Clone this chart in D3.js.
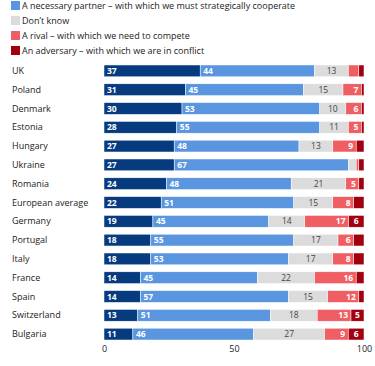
<!DOCTYPE html>
<html>
<head>
<meta charset="utf-8">
<script src="https://cdn.jsdelivr.net/npm/d3@7"></script>
<style>
  body { margin: 0; background: #fff; }
  svg { font-family: "Open Sans", sans-serif; }
</style>
</head>
<body>
<div class="chart"></div>
<script>
"use strict";

var countries = ["UK", "Poland", "Denmark", "Estonia", "Hungary", "Ukraine", "Romania",
  "European average", "Germany", "Portugal", "Italy", "France", "Spain", "Switzerland", "Bulgaria"];

var ally      = [37, 31, 30, 28, 27, 27, 24, 22, 19, 18, 18, 14, 14, 13, 11];
var partner   = [44, 45, 53, 55, 48, 67, 48, 51, 45, 55, 53, 45, 57, 51, 46];
var dontKnow  = [13, 15, 10, 11, 13, 3, 21, 15, 14, 17, 17, 22, 15, 18, 27];
var rival     = [4, 7, 6, 5, 9, 1, 5, 8, 17, 6, 8, 16, 12, 13, 9];
var adversary = [2, 1, 1, 1, 3, 2, 2, 4, 6, 4, 4, 3, 2, 5, 6];

var keys = ["ally", "partner", "dontKnow", "rival", "adversary"];
var legendLabels = [
  "A necessary partner \u2013 with which we must strategically cooperate",
  "Don\u2019t know",
  "A rival \u2013 with which we need to compete",
  "An adversary \u2013 with which we are in conflict"
];
var tickValues = [0, 50, 100];

var colors = {
  ally: "#073b80",
  partner: "#5a95e0",
  dontKnow: "#dcdcdc",
  rival: "#ef5e62",
  adversary: "#a3000f"
};

var width = 375, height = 366;

var rows = countries.map(function(c, i) {
  return { country: c, ally: ally[i], partner: partner[i], dontKnow: dontKnow[i],
           rival: rival[i], adversary: adversary[i] };
});

var svg = d3.select(".chart").append("svg")
  .attr("width", width)
  .attr("height", height);

// legend (first item of the original is cropped off the top)
var legend = svg.append("g").selectAll("g")
  .data(legendLabels)
  .enter().append("g")
    .attr("transform", function(d, i) { return "translate(11," + (1 + i * 15) + ")"; });

legend.append("rect")
  .attr("width", 9)
  .attr("height", 9)
  .attr("fill", function(d, i) { return colors[keys[i + 1]]; });

legend.append("text")
  .attr("x", 11)
  .attr("y", 4.5)
  .attr("dy", "0.35em")
  .style("font-size", "9px")
  .style("fill", "#222")
  .text(function(d) { return d; });

var x = d3.scaleLinear().domain([0, 1]).range([104, 364]);
var y = d3.scaleBand().domain(countries).range([58, 347]).padding(0.372);

var series = d3.stack().keys(keys).offset(d3.stackOffsetExpand)(rows);

// country labels
svg.append("g").selectAll("text")
  .data(countries)
  .enter().append("text")
    .attr("x", 12)
    .attr("y", function(d) { return y(d) + y.bandwidth() / 2; })
    .attr("dy", "0.35em")
    .style("font-size", "9px")
    .style("fill", "#222")
    .text(function(d) { return d; });

var layers = svg.append("g").selectAll("g")
  .data(series)
  .enter().append("g")
    .attr("fill", function(d) { return colors[d.key]; });

layers.selectAll("rect")
  .data(function(d) { return d; })
  .enter().append("rect")
    .attr("x", function(d) { return x(d[0]); })
    .attr("y", function(d) { return y(d.data.country); })
    .attr("width", function(d) { return Math.max(0, x(d[1]) - x(d[0])); })
    .attr("height", y.bandwidth())
    .attr("stroke", "#fff")
    .attr("stroke-width", 0.5);

// value labels
layers.each(function(s) {
  var key = s.key;
  d3.select(this).selectAll("text")
    .data(s.filter(function(d) { return d.data[key] >= 5; }))
    .enter().append("text")
      .attr("x", function(d) {
        if (key === "ally" || key === "partner") return x(d[0]) + 3;
        if (key === "dontKnow" || key === "adversary") return (x(d[0]) + x(d[1])) / 2;
        return x(d[1]) - 3;
      })
      .attr("y", function(d) { return y(d.data.country) + y.bandwidth() / 2; })
      .attr("dy", "0.36em")
      .attr("text-anchor", function() {
        if (key === "ally" || key === "partner") return "start";
        if (key === "dontKnow" || key === "adversary") return "middle";
        return "end";
      })
      .style("font-size", "8.5px")
      .style("font-weight", key === "dontKnow" ? "normal" : "bold")
      .style("fill", key === "dontKnow" ? "#444" : "#fff")
      .text(function(d) { return d.data[key]; });
});

// x axis
var axis = svg.append("g")
  .attr("transform", "translate(0,343)")
  .call(d3.axisBottom(x)
    .tickValues(tickValues.map(function(v) { return v / 100; }))
    .tickFormat(function(d) { return Math.round(d * 100); })
    .tickSize(0));

axis.select(".domain").remove();
axis.selectAll("text")
  .style("font-size", "9px")
  .style("fill", "#222")
  .style("font-family", "\"Open Sans\", sans-serif");
</script>
</body>
</html>
